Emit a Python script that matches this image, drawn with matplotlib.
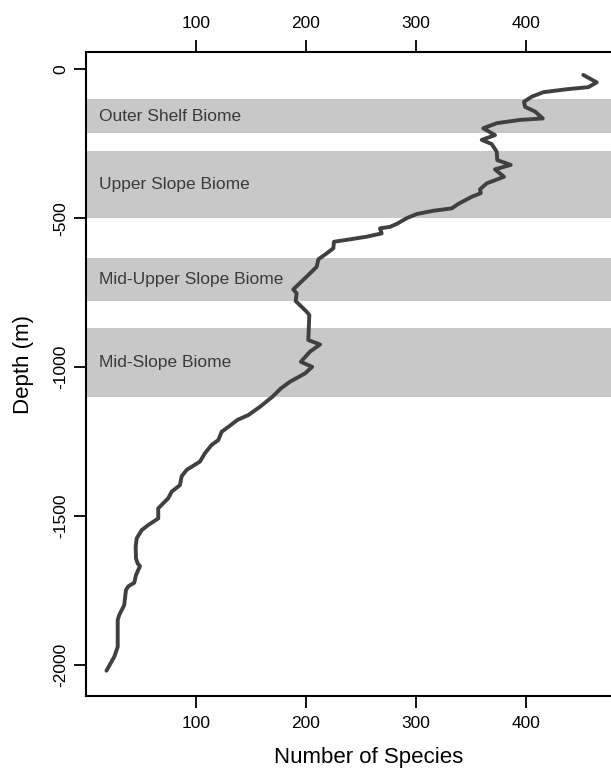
import matplotlib
matplotlib.use("Agg")
import matplotlib.pyplot as plt

plt.rcParams['font.family'] = ['Liberation Sans', 'DejaVu Sans']
plt.rcParams['axes.unicode_minus'] = False

# Species richness profile (number of species vs depth)
species = [452.0, 464.2, 456.6, 437.0, 415.7, 405.2, 398.2, 399.1, 408.2, 415.2,
           394.6, 373.4, 361.2, 371.8, 359.8, 368.8, 373.4, 373.9, 386.1, 371.8,
           380.0, 364.3, 358.2, 358.9, 350.7, 338.5, 332.5, 315.8, 300.7, 291.6,
           282.6, 276.5, 267.4, 268.9, 255.3, 240.1, 225.6, 225.0, 219.0, 211.4,
           209.9, 200.8, 188.6, 191.7, 190.8, 200.8, 203.2, 202.3, 212.9, 203.8,
           195.5, 205.8, 199.3, 185.6, 177.5, 169.8, 158.4, 147.8, 138.0, 130.2,
           123.6, 120.5, 114.5, 108.4, 103.9, 91.8, 87.3, 85.7, 78.2, 75.1,
           66.0, 66.0, 56.9, 51.0, 46.4, 45.5, 45.8, 47.3, 49.4, 45.8,
           44.2, 39.1, 36.7, 35.1, 30.6, 29.2, 29.2, 26.1, 19.0]
depth = [-19, -44, -60, -67, -77, -92, -109, -126, -142, -165,
         -170, -181, -198, -221, -237, -251, -277, -305, -321, -336,
         -361, -383, -403, -416, -428, -452, -467, -475, -486, -500,
         -519, -529, -534, -551, -562, -571, -579, -601, -618, -638,
         -663, -696, -739, -752, -778, -814, -825, -909, -924, -948,
         -982, -999, -1021, -1049, -1071, -1099, -1133, -1161, -1177, -1199,
         -1217, -1245, -1261, -1289, -1317, -1345, -1366, -1396, -1418, -1440,
         -1474, -1508, -1530, -1547, -1575, -1603, -1642, -1659, -1668, -1698,
         -1724, -1735, -1748, -1799, -1832, -1849, -1939, -1972, -2019]

# Biome depth bands (top, bottom)
biome_names = ["Outer Shelf Biome", "Upper Slope Biome",
               "Mid-Upper Slope Biome", "Mid-Slope Biome"]
biome_top = [-100, -276, -635, -870]
biome_bottom = [-215, -499, -778, -1099]

x_ticks = [100, 200, 300, 400]
y_ticks = [-2000, -1500, -1000, -500, 0]

fig = plt.figure(figsize=(6.11, 7.68), dpi=100)
ax = fig.add_axes([86 / 611, 1 - 696 / 768, (652 - 86) / 611, (696 - 51.7) / 768])

for name, top, bot in zip(biome_names, biome_top, biome_bottom):
    ax.axhspan(bot, top, color='#c8c8c8', lw=0, zorder=1)
    ax.text(12, (top + bot) / 2, name, fontsize=12.5, color='#3a3a3a',
            ha='left', va='center', zorder=3)

ax.plot(species, depth, color='#404040', lw=2.8, solid_joinstyle='round',
        solid_capstyle='round', zorder=4)

ax.set_xlim(0.4, 514.4)
ax.set_ylim(-2104, 59)
ax.set_xticks(x_ticks)
ax.set_yticks(y_ticks)

for side in ['left', 'bottom', 'top']:
    ax.spines[side].set_linewidth(1.5)
ax.spines['right'].set_visible(False)

ax.tick_params(axis='x', top=True, labeltop=True, length=8.6, width=1.3,
               labelsize=12.5, pad=6)
ax.tick_params(axis='y', length=8.6, width=1.3, labelsize=12.5, pad=4)
plt.setp(ax.get_yticklabels(), rotation=90, va='center')

ax.set_xlabel("Number of Species", fontsize=16)
ax.set_ylabel("Depth (m)", fontsize=16)
ax.xaxis.set_label_coords(0.5, -(757 - 696) / (696 - 51.7))
ax.xaxis.label.set_va('center')
ax.yaxis.set_label_coords((23 - 86) / 566, (696 - 365) / (696 - 51.7))
ax.yaxis.label.set_va('center')

fig.savefig("out.png", dpi=100)
